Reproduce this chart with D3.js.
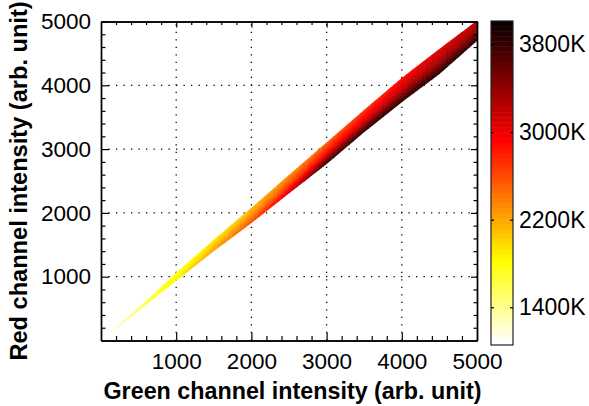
<!DOCTYPE html>
<html>
<head>
<meta charset="utf-8">
<script src="https://cdn.jsdelivr.net/npm/d3@7"></script>
<style>
  html, body { margin: 0; padding: 0; background: #fff; }
  svg { display: block; }
  text { font-family: "Liberation Sans", Arial, Helvetica, sans-serif; fill: #000; }
</style>
</head>
<body>
<svg id="chart" width="589" height="406"></svg>
<script>
// Green-channel stations along the measured band, with the red-channel
// edges of the point cloud and the colour temperature at its edges/centre.
const greenStations = [100, 300, 650, 1000, 1500, 2000, 2500, 3000, 3500, 4000, 4500, 5000];
const redUpper      = [103, 306, 672, 1060, 1575, 2075, 2590, 3100, 3610, 4110, 4565, 5010];
const redLower      = [ 97, 286, 614,  940, 1405, 1845, 2310, 2770, 3270, 3740, 4180, 4700];
const tempUpper     = [1100, 1250, 1500, 1720, 1900, 2100, 2300, 2500, 2700, 2900, 3050, 3200];
const tempMiddle    = [1120, 1300, 1580, 1800, 2050, 2300, 2600, 2900, 3050, 3200, 3300, 3400];
const tempLower     = [1150, 1350, 1650, 1880, 2250, 2600, 3100, 3850, 3900, 3900, 3900, 3900];

// Axis ticks
const axisTicks = [1000, 2000, 3000, 4000, 5000];
const gridTicks = [1000, 2000, 3000, 4000];
const tempTicks = [1400, 2200, 3000, 3800];
const tempRange = [1060, 4020];

const svg = d3.select("#chart");
const plot = { left: 101, right: 477, top: 21.5, bottom: 340.5 };
const bar = { left: 491, right: 513, top: 21, bottom: 345 };

const x = d3.scaleLinear().domain([0, 5000]).range([plot.left, plot.right]);
const y = d3.scaleLinear().domain([0, 5000]).range([plot.bottom, plot.top]);
const cbar = d3.scaleLinear().domain(tempRange).range([bar.bottom, bar.top]);

// Reversed "hot" colormap with 64 discrete levels (white -> yellow -> red -> black)
function hotColor(T) {
  const v = 1 - (T - tempRange[0]) / (tempRange[1] - tempRange[0]);
  const i = Math.max(0, Math.min(63, Math.floor(v * 64)));
  const k = i + 1;
  const r = Math.min(1, k / 24);
  const g = Math.max(0, Math.min(1, (k - 24) / 24));
  const b = Math.max(0, Math.min(1, (k - 48) / 16));
  return d3.rgb(r * 255, g * 255, b * 255).toString();
}

// Clip for the data area
svg.append("defs").append("clipPath").attr("id", "plotClip")
  .append("rect")
  .attr("x", plot.left).attr("y", plot.top)
  .attr("width", plot.right - plot.left).attr("height", plot.bottom - plot.top);

// Dotted grid
const grid = svg.append("g").attr("stroke", "#000").attr("stroke-width", 1.3)
  .attr("stroke-dasharray", "1.3,6.2");
grid.selectAll("line.gx").data(gridTicks).join("line")
  .attr("x1", d => x(d)).attr("x2", d => x(d))
  .attr("y1", plot.bottom).attr("y2", plot.top);
grid.selectAll("line.gy").data(gridTicks).join("line")
  .attr("x1", plot.left).attr("x2", plot.right)
  .attr("y1", d => y(d)).attr("y2", d => y(d));

// Band of measured points: each station interval is split into small cells,
// coloured by temperature from the upper edge, through the middle, to the lower edge.
const band = svg.append("g").attr("clip-path", "url(#plotClip)");
const along = 10, across = 10;
const cells = [];
const lerp = (a, b, t) => a + (b - a) * t;
function tempAt(i, s, u) {
  // u: 0 at upper edge, 1 at lower edge
  const up = lerp(tempUpper[i], tempUpper[i + 1], s);
  const mid = lerp(tempMiddle[i], tempMiddle[i + 1], s);
  const lo = lerp(tempLower[i], tempLower[i + 1], s);
  return u < 0.5 ? lerp(up, mid, u / 0.5) : lerp(mid, lo, (u - 0.5) / 0.5);
}
for (let i = 0; i < greenStations.length - 1; i++) {
  for (let a = 0; a < along; a++) {
    const s0 = a / along, s1 = (a + 1) / along;
    const g0 = lerp(greenStations[i], greenStations[i + 1], s0);
    const g1 = lerp(greenStations[i], greenStations[i + 1], s1);
    const u0r = lerp(redUpper[i], redUpper[i + 1], s0), u1r = lerp(redUpper[i], redUpper[i + 1], s1);
    const l0r = lerp(redLower[i], redLower[i + 1], s0), l1r = lerp(redLower[i], redLower[i + 1], s1);
    for (let c = 0; c < across; c++) {
      const t0 = c / across, t1 = (c + 1) / across;
      const pts = [
        [g0, lerp(u0r, l0r, t0)], [g1, lerp(u1r, l1r, t0)],
        [g1, lerp(u1r, l1r, t1)], [g0, lerp(u0r, l0r, t1)]
      ];
      cells.push({ pts, T: tempAt(i, (s0 + s1) / 2, (t0 + t1) / 2) });
    }
  }
}
band.selectAll("polygon").data(cells).join("polygon")
  .attr("points", d => d.pts.map(p => [x(p[0]), y(p[1])].join(",")).join(" "))
  .attr("fill", d => hotColor(d.T))
  .attr("stroke", d => hotColor(d.T))
  .attr("stroke-width", 0.6);

// Axes: inward ticks on all four sides
const minorTicks = d3.range(200, 5000, 200).filter(v => v % 1000 !== 0);
function styleAxis(g) {
  g.attr("font-family", null).attr("font-size", null);
  g.select(".domain").attr("stroke", "#000").attr("stroke-width", 1.4);
  g.selectAll(".tick line").attr("stroke", "#000").attr("stroke-width", 1.2);
  g.selectAll(".tick text").style("font-size", "22.5px");
}
svg.append("g").attr("transform", `translate(0,${plot.bottom})`)
  .call(d3.axisBottom(x).tickValues(axisTicks).tickSize(-8).tickSizeOuter(0).tickPadding(13).tickFormat(d3.format("d")))
  .call(styleAxis);
svg.append("g").attr("transform", `translate(0,${plot.bottom})`)
  .call(d3.axisBottom(x).tickValues(minorTicks).tickSize(-4.5).tickSizeOuter(0).tickFormat(""))
  .call(styleAxis);
svg.append("g").attr("transform", `translate(${plot.left},0)`)
  .call(d3.axisLeft(y).tickValues(axisTicks).tickSize(-8).tickSizeOuter(0).tickPadding(10).tickFormat(d3.format("d")))
  .call(styleAxis);
svg.append("g").attr("transform", `translate(${plot.left},0)`)
  .call(d3.axisLeft(y).tickValues(minorTicks).tickSize(-4.5).tickSizeOuter(0).tickFormat(""))
  .call(styleAxis);
svg.append("g").attr("transform", `translate(0,${plot.top})`)
  .call(d3.axisTop(x).tickValues(axisTicks).tickSize(-6).tickSizeOuter(0).tickFormat(""))
  .call(styleAxis);
svg.append("g").attr("transform", `translate(0,${plot.top})`)
  .call(d3.axisTop(x).tickValues(minorTicks).tickSize(-3.5).tickSizeOuter(0).tickFormat(""))
  .call(styleAxis);
svg.append("g").attr("transform", `translate(${plot.right},0)`)
  .call(d3.axisRight(y).tickValues(axisTicks).tickSize(-6).tickSizeOuter(0).tickFormat(""))
  .call(styleAxis);
svg.append("g").attr("transform", `translate(${plot.right},0)`)
  .call(d3.axisRight(y).tickValues(minorTicks).tickSize(-3.5).tickSizeOuter(0).tickFormat(""))
  .call(styleAxis);

// Axis titles
svg.append("text")
  .attr("x", 292.5).attr("y", 399)
  .attr("text-anchor", "middle")
  .style("font-size", "23.3px").style("font-weight", "bold")
  .text("Green channel intensity (arb. unit)");
svg.append("text")
  .attr("transform", "translate(27,181) rotate(-90)")
  .attr("text-anchor", "middle")
  .style("font-size", "23.6px").style("font-weight", "bold")
  .text("Red channel intensity (arb. unit)");

// Colour bar
const levels = d3.range(64);
const span = tempRange[1] - tempRange[0];
const cb = svg.append("g");
cb.selectAll("rect").data(levels).join("rect")
  .attr("x", bar.left)
  .attr("width", bar.right - bar.left)
  .attr("y", d => cbar(tempRange[0] + span * (d + 1) / 64))
  .attr("height", (bar.bottom - bar.top) / 64 + 0.5)
  .attr("fill", d => hotColor(tempRange[0] + span * (d + 0.5) / 64));
cb.append("rect")
  .attr("x", bar.left).attr("y", bar.top)
  .attr("width", bar.right - bar.left).attr("height", bar.bottom - bar.top)
  .attr("fill", "none").attr("stroke", "#222").attr("stroke-width", 1.2);
cb.selectAll("line.l").data(tempTicks).join("line")
  .attr("x1", bar.left).attr("x2", bar.left + 3)
  .attr("y1", d => cbar(d)).attr("y2", d => cbar(d))
  .attr("stroke", "#000").attr("stroke-width", 1.2);
cb.selectAll("line.r").data(tempTicks).join("line")
  .attr("x1", bar.right - 3).attr("x2", bar.right)
  .attr("y1", d => cbar(d)).attr("y2", d => cbar(d))
  .attr("stroke", "#000").attr("stroke-width", 1.2);
cb.selectAll("text").data(tempTicks).join("text")
  .attr("x", 519).attr("y", d => cbar(d))
  .attr("dy", "0.32em")
  .style("font-size", "23px")
  .text(d => d + "K");
</script>
</body>
</html>
